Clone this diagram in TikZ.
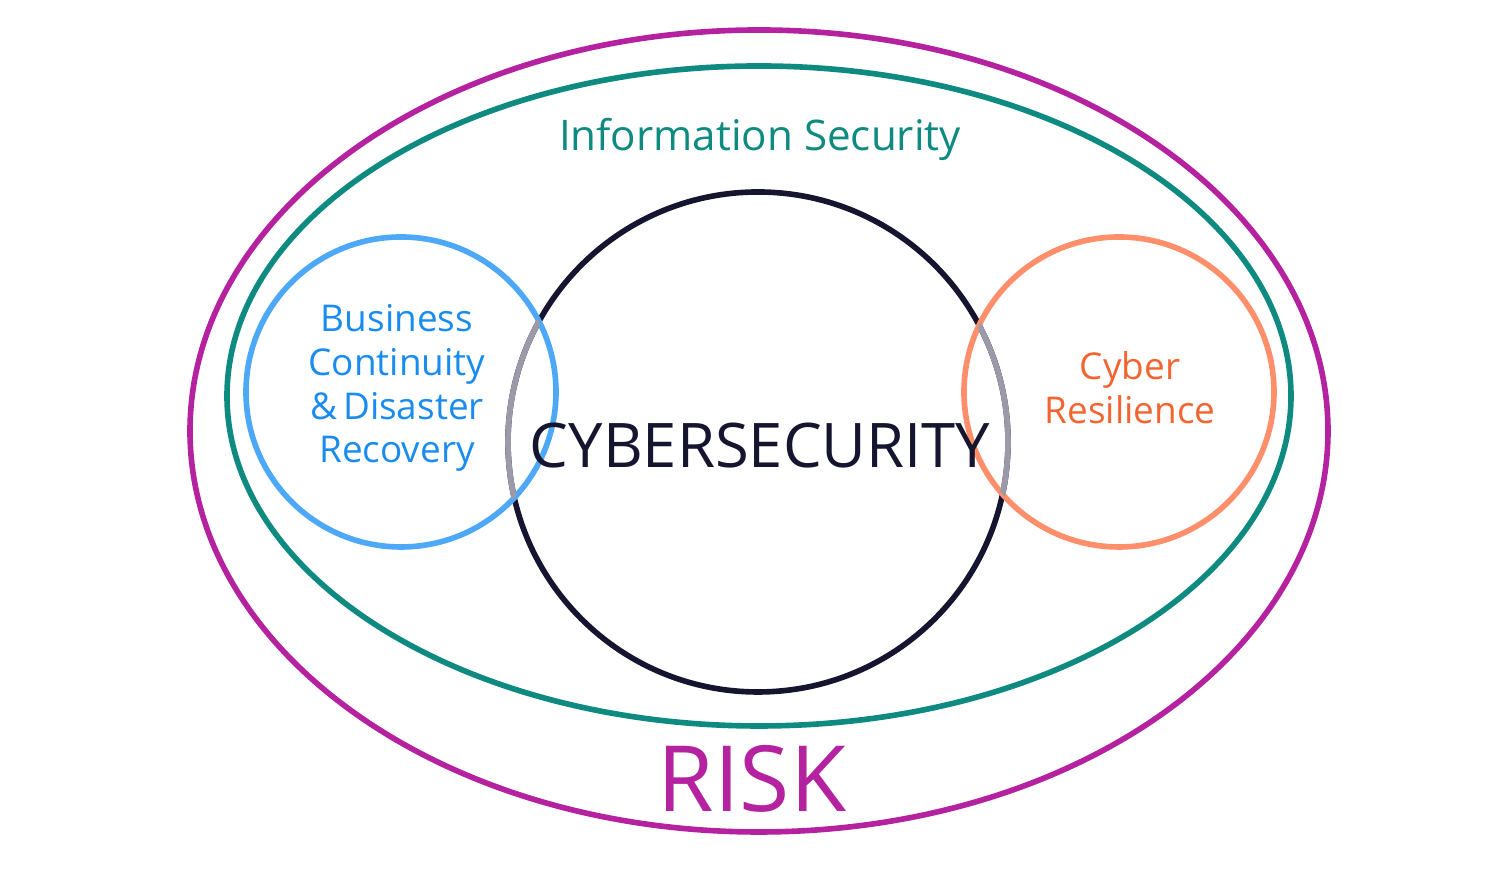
\documentclass[tikz,border=0pt]{standalone}
\usepackage{fontspec}
\setmainfont{Open Sans}
\usepackage{tikz}
\usetikzlibrary{positioning}
\usetikzlibrary{shapes.geometric}
\definecolor{riskc}{HTML}{B5229F}
\definecolor{infoc}{HTML}{0E8A80}
\definecolor{cyberc}{HTML}{15152F}
\definecolor{bcdrc}{HTML}{4DA8F8}
\definecolor{bcdrtext}{HTML}{1A8CF0}
\definecolor{resc}{HTML}{FF8E6A}
\definecolor{restext}{HTML}{F26430}
\definecolor{mixc}{HTML}{9C9AA8}
\begin{document}
\begin{tikzpicture} [line width=1.6pt, x=1cm, y=1cm,
     ring/.style={draw, fill=none, inner sep=0pt}
   ]
\useasboundingbox (0,0) rectangle (15,8.87);
% Outer shapes
\node (risk) [ring, riskc, ellipse, minimum width=11.38cm, minimum height=8.02cm] at (7.59,4.56) {};
\node (info) [ring, infoc, ellipse, minimum width=10.64cm, minimum height=6.60cm] at (7.59,4.91) {};
% Circles
\node (cyber) [ring, cyberc, circle, minimum size=5.0cm] at (7.58,4.45) {};
\node (bcdr) [ring, bcdrc, circle, minimum size=3.1cm] at (4.01,4.95) {};
\node (res) [ring, resc, circle, minimum size=3.1cm] at (11.19,4.95) {};
% Overlap arcs in grey
\begin{scope}
  \clip (bcdr.center) circle (1.55);
  \draw [mixc] (cyber.center) circle (2.5);
\end{scope}
\begin{scope}
  \clip (res.center) circle (1.55);
  \draw [mixc] (cyber.center) circle (2.5);
\end{scope}
% Labels
\node (infolbl) [infoc, font=\fontsize{12}{14}\selectfont] at (7.6,7.48) {Information Security};
\node (cyberlbl) [cyberc, font=\fontsize{17.5}{20}\selectfont] at (7.6,4.41) {CYBERSECURITY};
\node (risklbl) [riskc, font=\fontsize{26}{30}\selectfont] at (7.52,1.08) {RISK};
\node (bcdrlbl) [bcdrtext, align=center, font=\fontsize{10.5}{12.5}\selectfont] at (3.97,4.99) {Business\\Continuity\\\&\,Disaster\\Recovery};
\node (reslbl) [restext, align=center, font=\fontsize{10.5}{12.5}\selectfont] at (11.3,4.99) {Cyber\\Resilience};
\end{tikzpicture}
\end{document}
